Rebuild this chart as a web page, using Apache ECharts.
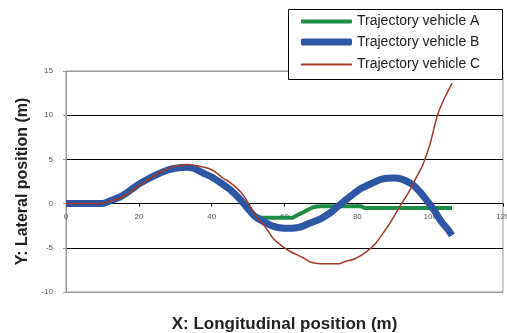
<!DOCTYPE html>
<html><head><meta charset="utf-8">
<script src="https://cdn.jsdelivr.net/npm/echarts@6/dist/echarts.min.js"></script>
<style>html,body{margin:0;padding:0;background:#fff}#c{width:507px;height:333px}</style>
</head><body><div id="c"></div>
<script>
const seriesNames = ['Trajectory vehicle A','Trajectory vehicle B','Trajectory vehicle C'];
const seriesColors = ['#1e8c45','#2f55a5','#a33a25'];
const xTicks = [0,20,40,60,80,100,120];
const yTicks = [-10,-5,0,5,10,15];

const aX = [0,5,10,12,15,18,20,23,25,28,30,33,35,38,40,43,45,48,50,52,54,58,62,64,66,68,70,75,81,82,90,100,106];
const aY = [0,0,0,0.3,0.8,1.6,2.2,2.9,3.3,3.8,4.0,4.1,4.0,3.4,3.0,2.2,1.5,0.3,-0.6,-1.3,-1.6,-1.6,-1.6,-1.2,-0.8,-0.4,-0.3,-0.3,-0.3,-0.5,-0.5,-0.5,-0.5];

const bX = [0,5,10,12,15,18,20,23,25,28,30,33,35,38,40,43,45,48,50,52,55,58,61,64,67,70,73,75,78,81,84,87,90,92,95,97,99,101,103,105,106];
const bY = [0,0,0,0.3,0.8,1.6,2.2,2.9,3.3,3.8,4.0,4.1,4.0,3.4,3.0,2.2,1.6,0.4,-0.6,-1.5,-2.2,-2.7,-2.8,-2.7,-2.2,-1.7,-0.9,-0.2,0.8,1.7,2.3,2.8,2.9,2.8,2.2,1.4,0.4,-0.7,-2.0,-3.0,-3.6];

const cX = [0,5,10,12,15,18,20,23,26,29,31,34,37,39,41,43,45,48,50,52,55,57,60,62,65,67,70,73,75,77,79,82,85,88,90,92,94,96,98,100,102,104,106];
const cY = [0,0,0,0.3,0.6,1.4,2.0,2.8,3.6,4.1,4.3,4.4,4.2,4.0,3.6,2.9,2.4,1.3,0.1,-1.3,-2.8,-4.0,-5.0,-5.5,-6.1,-6.6,-6.8,-6.8,-6.8,-6.5,-6.3,-5.6,-4.5,-2.8,-1.5,-0.1,1.2,2.8,4.4,6.8,10.0,12.0,13.6];

function pairs(xs, ys){ return xs.map((x,i)=>[x, ys[i]]); }

const legendCenters = [21.5, 42, 64.5];
const legendThick = [4, 7, 2];
const legends = seriesNames.map((n,i)=>({
  orient:'vertical', left:301, top:legendCenters[i]-8, padding:0, z:20,
  itemWidth:51, itemHeight:legendThick[i], itemTextGap:4, icon:'roundRect',
  textStyle:{fontSize:14,color:'#222',fontFamily:'Liberation Sans',lineHeight:16},
  data:[{name:n, itemStyle:{color:seriesColors[i]}}], selectedMode:false
}));

const chart = echarts.init(document.getElementById('c'));
chart.setOption({
  animation:false,
  grid:{left:66,right:4,top:71,bottom:41,show:true,borderColor:'#999',borderWidth:1,outerBoundsMode:'none'},
  graphic:[{type:'rect',left:288,top:9,z:10,shape:{width:214,height:70},style:{fill:'#fff',stroke:'#000',lineWidth:1}}],
  xAxis:{
    type:'value',position:'bottom',offset:-88.4,min:xTicks[0],max:xTicks[xTicks.length-1],interval:20,
    axisLine:{show:true,onZero:false,lineStyle:{color:'#000',width:1}},
    axisTick:{show:true,length:3,lineStyle:{color:'#000'}},
    axisLabel:{fontSize:8,color:'#555',fontFamily:'Liberation Sans',margin:9},
    splitLine:{show:false},
    name:'X: Longitudinal position (m)',nameLocation:'middle',nameGap:112,
    nameTextStyle:{fontSize:17,fontWeight:'bold',color:'#222',fontFamily:'Liberation Sans'}
  },
  yAxis:{
    type:'value',min:yTicks[0],max:yTicks[yTicks.length-1],interval:5,
    axisLine:{show:true,lineStyle:{color:'#999'}},
    axisTick:{show:true,length:3,lineStyle:{color:'#999'}},
    axisLabel:{fontSize:8,color:'#555',fontFamily:'Liberation Sans',margin:13},
    splitLine:{show:true,lineStyle:{color:['#999','#000','#000','#000','#000','#999'],width:1}},
    name:'Y: Lateral position (m)',nameLocation:'middle',nameGap:34,nameRotate:90,
    nameTextStyle:{fontSize:16,fontWeight:'bold',color:'#222',fontFamily:'Liberation Sans'}
  },
  legend:legends,
  series:[
    {name:seriesNames[0],type:'line',data:pairs(aX,aY),showSymbol:false,symbol:'none',smooth:0.2,
     lineStyle:{color:seriesColors[0],width:4},itemStyle:{color:seriesColors[0]}},
    {name:seriesNames[1],type:'line',data:pairs(bX,bY),showSymbol:false,symbol:'none',smooth:0.3,
     lineStyle:{color:seriesColors[1],width:7},itemStyle:{color:seriesColors[1]}},
    {name:seriesNames[2],type:'line',data:pairs(cX,cY),showSymbol:false,symbol:'none',smooth:0.2,
     lineStyle:{color:seriesColors[2],width:1.5},itemStyle:{color:seriesColors[2]}}
  ]
});
</script></body></html>
